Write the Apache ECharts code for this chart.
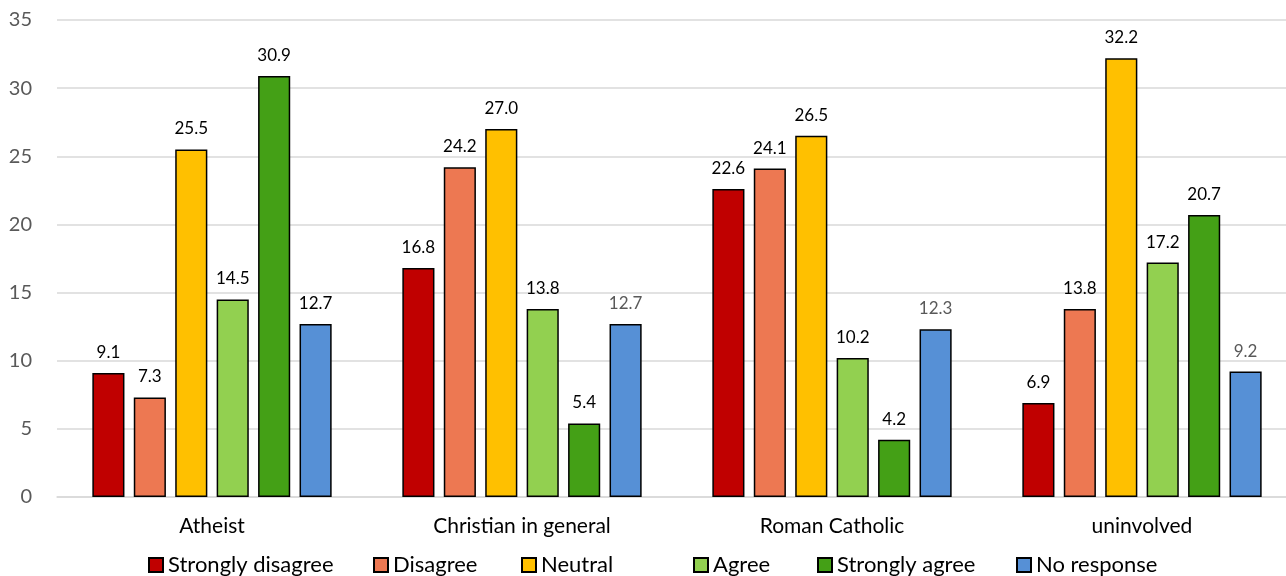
<!DOCTYPE html>
<html>
<head>
<meta charset="utf-8">
<script src="https://cdn.jsdelivr.net/npm/echarts@6/dist/echarts.min.js"></script>
<style>html,body{margin:0;padding:0;background:#fff;overflow:hidden;width:1286px;height:576px}#c{width:1297px;height:576px}</style>
</head>
<body>
<div id="c"></div>
<script>
const categories = ['Atheist', 'Christian in general', 'Roman Catholic', 'uninvolved'];
const seriesNames = ['Strongly disagree', 'Disagree', 'Neutral', 'Agree', 'Strongly agree', 'No response'];
const stronglyDisagree = [9.1, 16.8, 22.6, 6.9];
const disagree = [7.3, 24.2, 24.1, 13.8];
const neutral = [25.5, 27.0, 26.5, 32.2];
const agree = [14.5, 13.8, 10.2, 17.2];
const stronglyAgree = [30.9, 5.4, 4.2, 20.7];
const noResponse = [12.7, 12.7, 12.3, 9.2];
const yTicks = [0, 5, 10, 15, 20, 25, 30, 35];

const values = [stronglyDisagree, disagree, neutral, agree, stronglyAgree, noResponse];
const colors = ['#C00000', '#ED7852', '#FFC000', '#92D050', '#44A016', '#5690D6'];
const greyLabels = {5: [1, 2, 3]};
const legendLeft = [148, 373, 521, 693, 817, 1016];
const FONT = 'Lato, "Open Sans", sans-serif';

const chart = echarts.init(document.getElementById('c'));
chart.setOption({
  animation: false,
  textStyle: {fontFamily: FONT},
  grid: {left: 57, right: 0, top: 20, bottom: 79, containLabel: false},
  legend: seriesNames.map((name, i) => ({
    top: 554, left: legendLeft[i], padding: 0,
    itemWidth: 14, itemHeight: 14,
    icon: 'rect',
    textStyle: {fontSize: 22, lineHeight: 22, color: '#000', fontFamily: FONT},
    data: [name]
  })),
  xAxis: {
    type: 'category', data: categories,
    axisLine: {lineStyle: {color: '#d9d9d9', width: 1.5}},
    axisTick: {show: false},
    axisLabel: {fontSize: 21, color: '#000', margin: 19, fontFamily: FONT}
  },
  yAxis: {
    type: 'value', min: yTicks[0], max: yTicks[yTicks.length - 1], interval: 5,
    axisLine: {show: false}, axisTick: {show: false},
    splitLine: {lineStyle: {color: '#d9d9d9', width: 1.5}},
    axisLabel: {fontSize: 20, color: '#595959', margin: 25, fontFamily: FONT}
  },
  series: seriesNames.map((name, i) => ({
    name, type: 'bar',
    barGap: '29%', barCategoryGap: '22.8%',
    itemStyle: {color: colors[i], borderColor: '#000', borderWidth: 1.5},
    label: {show: true, position: 'top', distance: 12, fontSize: 17, fontFamily: FONT,
      formatter: p => p.value.toFixed(1)},
    data: values[i].map((v, j) => ({
      value: v,
      label: {color: (greyLabels[i] && greyLabels[i].includes(j)) ? '#595959' : '#000'}
    }))
  }))
});
</script>
</body>
</html>
